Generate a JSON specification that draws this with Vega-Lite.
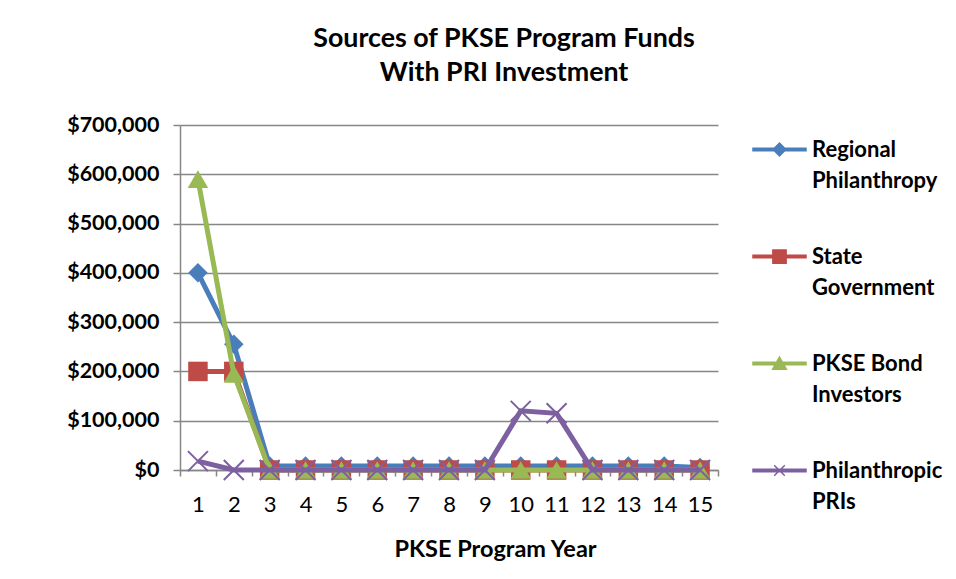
{
  "$schema": "https://vega.github.io/schema/vega-lite/v6.json",
  "width": 538,
  "height": 345,
  "autosize": {"type": "none"},
  "padding": {"left": 180, "top": 125, "right": 238, "bottom": 109},
  "background": "white",
  "config": {
    "font": "Lato",
    "view": {"stroke": null}
  },
  "title": {
    "text": ["Sources of PKSE Program Funds", "With PRI Investment"],
    "font": "Lato",
    "fontSize": 26.8,
    "fontWeight": "bold",
    "color": "#000000",
    "anchor": "middle",
    "dx": 55,
    "lineHeight": 34,
    "offset": 27
  },
  "data": {
    "values": [
      {"year": 1, "series": "Regional Philanthropy", "value": 400000},
      {"year": 2, "series": "Regional Philanthropy", "value": 255000},
      {"year": 3, "series": "Regional Philanthropy", "value": 8000},
      {"year": 4, "series": "Regional Philanthropy", "value": 8000},
      {"year": 5, "series": "Regional Philanthropy", "value": 8000},
      {"year": 6, "series": "Regional Philanthropy", "value": 8000},
      {"year": 7, "series": "Regional Philanthropy", "value": 8000},
      {"year": 8, "series": "Regional Philanthropy", "value": 8000},
      {"year": 9, "series": "Regional Philanthropy", "value": 8000},
      {"year": 10, "series": "Regional Philanthropy", "value": 8000},
      {"year": 11, "series": "Regional Philanthropy", "value": 8000},
      {"year": 12, "series": "Regional Philanthropy", "value": 8000},
      {"year": 13, "series": "Regional Philanthropy", "value": 8000},
      {"year": 14, "series": "Regional Philanthropy", "value": 8000},
      {"year": 15, "series": "Regional Philanthropy", "value": 5000},
      {"year": 1, "series": "State Government", "value": 200000},
      {"year": 2, "series": "State Government", "value": 200000},
      {"year": 3, "series": "State Government", "value": 0},
      {"year": 4, "series": "State Government", "value": 0},
      {"year": 5, "series": "State Government", "value": 0},
      {"year": 6, "series": "State Government", "value": 0},
      {"year": 7, "series": "State Government", "value": 0},
      {"year": 8, "series": "State Government", "value": 0},
      {"year": 9, "series": "State Government", "value": 0},
      {"year": 10, "series": "State Government", "value": 0},
      {"year": 11, "series": "State Government", "value": 0},
      {"year": 12, "series": "State Government", "value": 0},
      {"year": 13, "series": "State Government", "value": 0},
      {"year": 14, "series": "State Government", "value": 0},
      {"year": 15, "series": "State Government", "value": 0},
      {"year": 1, "series": "PKSE Bond Investors", "value": 590000},
      {"year": 2, "series": "PKSE Bond Investors", "value": 195000},
      {"year": 3, "series": "PKSE Bond Investors", "value": 0},
      {"year": 4, "series": "PKSE Bond Investors", "value": 0},
      {"year": 5, "series": "PKSE Bond Investors", "value": 0},
      {"year": 6, "series": "PKSE Bond Investors", "value": 0},
      {"year": 7, "series": "PKSE Bond Investors", "value": 0},
      {"year": 8, "series": "PKSE Bond Investors", "value": 0},
      {"year": 9, "series": "PKSE Bond Investors", "value": 0},
      {"year": 10, "series": "PKSE Bond Investors", "value": 0},
      {"year": 11, "series": "PKSE Bond Investors", "value": 0},
      {"year": 12, "series": "PKSE Bond Investors", "value": 0},
      {"year": 13, "series": "PKSE Bond Investors", "value": 0},
      {"year": 14, "series": "PKSE Bond Investors", "value": 0},
      {"year": 15, "series": "PKSE Bond Investors", "value": 0},
      {"year": 1, "series": "Philanthropic PRIs", "value": 18000},
      {"year": 2, "series": "Philanthropic PRIs", "value": 0},
      {"year": 3, "series": "Philanthropic PRIs", "value": 0},
      {"year": 4, "series": "Philanthropic PRIs", "value": 0},
      {"year": 5, "series": "Philanthropic PRIs", "value": 0},
      {"year": 6, "series": "Philanthropic PRIs", "value": 0},
      {"year": 7, "series": "Philanthropic PRIs", "value": 0},
      {"year": 8, "series": "Philanthropic PRIs", "value": 0},
      {"year": 9, "series": "Philanthropic PRIs", "value": 0},
      {"year": 10, "series": "Philanthropic PRIs", "value": 120000},
      {"year": 11, "series": "Philanthropic PRIs", "value": 115000},
      {"year": 12, "series": "Philanthropic PRIs", "value": 0},
      {"year": 13, "series": "Philanthropic PRIs", "value": 0},
      {"year": 14, "series": "Philanthropic PRIs", "value": 0},
      {"year": 15, "series": "Philanthropic PRIs", "value": 0}
    ]
  },
  "encoding": {
    "x": {
      "field": "year",
      "type": "ordinal",
      "bandPosition": 0.5,
      "scale": {"type": "band", "paddingInner": 0, "paddingOuter": 0},
      "axis": {
        "title": "PKSE Program Year",
        "titleFont": "Lato",
        "titleFontSize": 23.5,
        "titleFontWeight": "bold",
        "titleColor": "#000000",
        "titleX": 315,
        "titleY": 79,
        "titleBaseline": "middle",
        "labelAngle": 0,
        "labelFont": "Lato",
        "labelFontSize": 22,
        "labelFontWeight": "normal",
        "labelColor": "#000000",
        "labelPadding": 18,
        "tickBand": "extent",
        "tickSize": 6,
        "tickColor": "#868686",
        "tickWidth": 1.5,
        "domainColor": "#868686",
        "domainWidth": 1.5,
        "grid": false
      }
    },
    "y": {
      "field": "value",
      "type": "quantitative",
      "scale": {"domain": [0, 700000], "nice": false},
      "axis": {
        "title": null,
        "values": [0, 100000, 200000, 300000, 400000, 500000, 600000, 700000],
        "format": "$,.0f",
        "labelFont": "Lato",
        "labelFontSize": 21.5,
        "labelFontWeight": "bold",
        "labelColor": "#000000",
        "labelPadding": 14,
        "tickSize": 7,
        "tickColor": "#868686",
        "tickWidth": 1.5,
        "domainColor": "#868686",
        "domainWidth": 1.5,
        "grid": true,
        "gridColor": "#868686",
        "gridWidth": 1.5
      }
    },
    "color": {
      "field": "series",
      "type": "nominal",
      "scale": {
        "domain": ["Regional Philanthropy", "State Government", "PKSE Bond Investors", "Philanthropic PRIs"],
        "range": ["#4A7EBB", "#BE4B48", "#98B954", "#7D60A0"]
      },
      "legend": {
        "title": null,
        "orient": "none",
        "legendX": 572,
        "legendY": -3,
        "direction": "vertical",
        "labelFont": "Lato",
        "labelFontSize": 22,
        "labelFontWeight": "bold",
        "labelColor": "#000000",
        "labelBaseline": "middle",
        "labelOffset": 5,
        "labelLimit": 300,
        "rowPadding": 37,
        "symbolSize": 2809,
        "symbolStrokeWidth": 1.5,
        "labelExpr": "datum.label == 'Regional Philanthropy' ? ['Regional', 'Philanthropy'] : datum.label == 'State Government' ? ['State', 'Government'] : datum.label == 'PKSE Bond Investors' ? ['PKSE Bond', 'Investors'] : ['Philanthropic', 'PRIs']",
        "encode": {
          "symbols": {
            "update": {
              "shape": {"signal": "datum.value == 'Regional Philanthropy' ? 'M-1,-0.05L1,-0.05L1,0.05L-1,0.05Z M0,-0.24L0.24,0L0,0.24L-0.24,0Z' : datum.value == 'State Government' ? 'M-1,-0.05L1,-0.05L1,0.05L-1,0.05Z M-0.25,-0.25L0.25,-0.25L0.25,0.25L-0.25,0.25Z' : datum.value == 'PKSE Bond Investors' ? 'M-1,-0.05L1,-0.05L1,0.05L-1,0.05Z M0,-0.24L0.26,0.22L-0.26,0.22Z' : 'M-1,-0.05L1,-0.05L1,0.05L-1,0.05Z M-0.2,-0.2L0.2,0.2M-0.2,0.2L0.2,-0.2'"},
              "fill": {"signal": "datum.value == 'Regional Philanthropy' ? '#4A7EBB' : datum.value == 'State Government' ? '#BE4B48' : datum.value == 'PKSE Bond Investors' ? '#98B954' : '#7D60A0'"},
              "stroke": {"signal": "datum.value == 'Regional Philanthropy' ? '#4A7EBB' : datum.value == 'State Government' ? '#BE4B48' : datum.value == 'PKSE Bond Investors' ? '#98B954' : '#7D60A0'"},
              "strokeWidth": {"value": 1.5},
              "opacity": {"value": 1},
              "fillOpacity": {"value": 1}
            }
          },
          "labels": {
            "update": {"dy": {"value": 0}, "lineHeight": {"value": 31}}
          }
        }
      }
    }
  },
  "layer": [
    {
      "transform": [{"filter": "datum.series == 'Regional Philanthropy'"}],
      "mark": {"type": "line", "strokeWidth": 5, "point": {"shape": "diamond", "filled": true, "size": 380, "opacity": 1}}
    },
    {
      "transform": [{"filter": "datum.series == 'State Government'"}],
      "mark": {"type": "line", "strokeWidth": 5, "point": {"shape": "square", "filled": true, "size": 380, "opacity": 1}}
    },
    {
      "transform": [{"filter": "datum.series == 'PKSE Bond Investors'"}],
      "mark": {"type": "line", "strokeWidth": 5, "point": {"shape": "triangle-up", "filled": true, "size": 420, "opacity": 1}}
    },
    {
      "transform": [{"filter": "datum.series == 'Philanthropic PRIs'"}],
      "mark": {"type": "line", "strokeWidth": 5, "point": {"shape": "M-1,-1L1,1M-1,1L1,-1", "filled": false, "size": 400, "strokeWidth": 2, "opacity": 1}}
    }
  ]
}
